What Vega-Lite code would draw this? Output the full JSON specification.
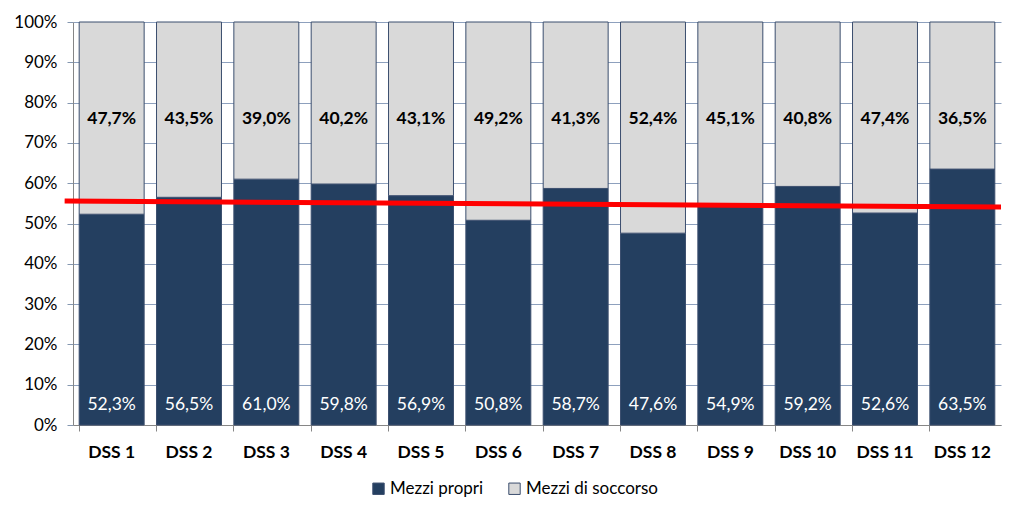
{
  "$schema": "https://vega.github.io/schema/vega-lite/v6.json",
  "width": 928,
  "height": 403,
  "autosize": {"type": "none"},
  "padding": {"left": 73, "top": 22, "right": 22, "bottom": 94},
  "background": "white",
  "config": {
    "font": "Lato",
    "view": {"stroke": null},
    "axis": {"labelFont": "Lato", "labelColor": "#000000"}
  },
  "datasets": {
    "bars": [
      {"dss": "DSS 1", "serie": "Mezzi propri", "v": 52.3},
      {"dss": "DSS 2", "serie": "Mezzi propri", "v": 56.5},
      {"dss": "DSS 3", "serie": "Mezzi propri", "v": 61.0},
      {"dss": "DSS 4", "serie": "Mezzi propri", "v": 59.8},
      {"dss": "DSS 5", "serie": "Mezzi propri", "v": 56.9},
      {"dss": "DSS 6", "serie": "Mezzi propri", "v": 50.8},
      {"dss": "DSS 7", "serie": "Mezzi propri", "v": 58.7},
      {"dss": "DSS 8", "serie": "Mezzi propri", "v": 47.6},
      {"dss": "DSS 9", "serie": "Mezzi propri", "v": 54.9},
      {"dss": "DSS 10", "serie": "Mezzi propri", "v": 59.2},
      {"dss": "DSS 11", "serie": "Mezzi propri", "v": 52.6},
      {"dss": "DSS 12", "serie": "Mezzi propri", "v": 63.5},
      {"dss": "DSS 1", "serie": "Mezzi di soccorso", "v": 47.7},
      {"dss": "DSS 2", "serie": "Mezzi di soccorso", "v": 43.5},
      {"dss": "DSS 3", "serie": "Mezzi di soccorso", "v": 39.0},
      {"dss": "DSS 4", "serie": "Mezzi di soccorso", "v": 40.2},
      {"dss": "DSS 5", "serie": "Mezzi di soccorso", "v": 43.1},
      {"dss": "DSS 6", "serie": "Mezzi di soccorso", "v": 49.2},
      {"dss": "DSS 7", "serie": "Mezzi di soccorso", "v": 41.3},
      {"dss": "DSS 8", "serie": "Mezzi di soccorso", "v": 52.4},
      {"dss": "DSS 9", "serie": "Mezzi di soccorso", "v": 45.1},
      {"dss": "DSS 10", "serie": "Mezzi di soccorso", "v": 40.8},
      {"dss": "DSS 11", "serie": "Mezzi di soccorso", "v": 47.4},
      {"dss": "DSS 12", "serie": "Mezzi di soccorso", "v": 36.5}
    ],
    "trend": [
      {"t": -0.009, "y": 55.6},
      {"t": 1.0, "y": 54.1}
    ]
  },
  "resolve": {"scale": {"x": "independent"}},
  "layer": [
    {
      "data": {"name": "bars"},
      "transform": [
        {"calculate": "indexof(['Mezzi propri','Mezzi di soccorso'], datum.serie)", "as": "ord"},
        {"calculate": "replace(format(datum.v, '.1f'), '.', ',') + '%'", "as": "lab"}
      ],
      "encoding": {
        "x": {
          "field": "dss",
          "type": "nominal",
          "sort": null,
          "scale": {"paddingInner": 0.16, "paddingOuter": 0.08},
          "axis": {
            "title": null,
            "labelAngle": 0,
            "labelFontSize": 17.5,
            "labelFontWeight": "bold",
            "labelPadding": 12,
            "bandPosition": 0,
            "tickSize": 6,
            "tickColor": "#868686",
            "domainColor": "#868686",
            "grid": false
          }
        }
      },
      "layer": [
        {
          "mark": {"type": "bar", "stroke": "#3b4e6e", "strokeWidth": 1},
          "encoding": {
            "y": {
              "field": "v",
              "type": "quantitative",
              "stack": "zero",
              "scale": {"domain": [0, 100], "nice": false},
              "axis": {
                "title": null,
                "values": [0, 10, 20, 30, 40, 50, 60, 70, 80, 90, 100],
                "labelExpr": "datum.value + '%'",
                "labelFontSize": 17,
                "labelPadding": 10,
                "tickSize": 6,
                "tickColor": "#8497B0",
                "domainColor": "#868686",
                "grid": true,
                "gridColor": "#8da0bd",
                "gridWidth": 1
              }
            },
            "color": {
              "field": "serie",
              "type": "nominal",
              "scale": {"domain": ["Mezzi propri", "Mezzi di soccorso"], "range": ["#243F60", "#D9D9D9"]},
              "legend": {
                "title": null,
                "orient": "none",
                "legendX": 297,
                "legendY": 458,
                "direction": "horizontal",
                "symbolType": "square",
                "symbolSize": 130,
                "symbolStrokeColor": "#3b4e6e",
                "symbolStrokeWidth": 1,
                "labelFontSize": 17,
                "labelFont": "Lato",
                "labelColor": "#000000",
                "columnPadding": 22,
                "labelOffset": 3
              }
            },
            "order": {"field": "ord", "type": "quantitative"}
          }
        },
        {
          "transform": [{"filter": "datum.serie == 'Mezzi propri'"}],
          "mark": {"type": "text", "color": "white", "fontSize": 17.5, "baseline": "middle", "font": "Lato"},
          "encoding": {
            "y": {"datum": 5, "type": "quantitative"},
            "text": {"field": "lab"}
          }
        },
        {
          "transform": [{"filter": "datum.serie == 'Mezzi di soccorso'"}],
          "mark": {"type": "text", "color": "black", "fontSize": 17.5, "fontWeight": "bold", "baseline": "middle", "font": "Lato"},
          "encoding": {
            "y": {"datum": 76, "type": "quantitative"},
            "text": {"field": "lab"}
          }
        }
      ]
    },
    {
      "data": {"name": "trend"},
      "mark": {"type": "line", "color": "#FF0000", "strokeWidth": 5, "clip": false},
      "encoding": {
        "x": {"field": "t", "type": "quantitative", "scale": {"domain": [0, 1], "nice": false, "zero": false}, "axis": null},
        "y": {"field": "y", "type": "quantitative"}
      }
    }
  ]
}
